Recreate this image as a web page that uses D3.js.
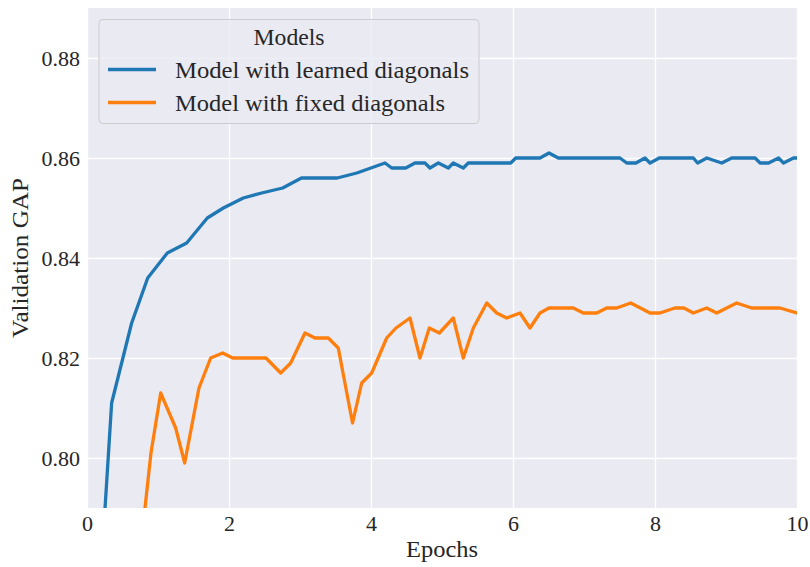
<!DOCTYPE html>
<html lang="en">
<head>
  <meta charset="UTF-8">
  <style>
    body { margin: 0; background: #fff; }
    svg { display: block; }
    text { font-family: "Liberation Serif", serif; fill: #262626; }
  </style>
  <script src="https://d3js.org/d3.v7.min.js"></script>
</head>
<body>
<svg id="chart"></svg>
<script>
  // epochs / validation GAP
  const learnedEpochs = [0.21, 0.347, 0.629, 0.855, 1.131, 1.404, 1.694, 1.92, 2.201, 2.46, 2.756, 3.02, 3.525, 3.80,
    4.197, 4.292, 4.489, 4.62, 4.76, 4.83, 4.948, 5.089, 5.159, 5.30, 5.37, 5.968, 6.038, 6.38, 6.507, 6.638,
    7.507, 7.601, 7.732, 7.859, 7.93, 8.06, 8.54, 8.60, 8.73, 8.94, 9.08, 9.41, 9.48, 9.60, 9.74, 9.81, 9.95, 10.0];
  const learnedGap = [0.780, 0.811, 0.827, 0.836, 0.841, 0.843, 0.848, 0.850, 0.852, 0.853, 0.854, 0.856, 0.856, 0.857,
    0.859, 0.858, 0.858, 0.859, 0.859, 0.858, 0.859, 0.858, 0.859, 0.858, 0.859, 0.859, 0.860, 0.860, 0.861, 0.860,
    0.860, 0.859, 0.859, 0.860, 0.859, 0.860, 0.860, 0.859, 0.860, 0.859, 0.860, 0.860, 0.859, 0.859, 0.860, 0.859, 0.860, 0.860];

  const fixedEpochs = [0.76, 0.901, 1.038, 1.249, 1.376, 1.577, 1.742, 1.911, 2.052, 2.521, 2.728, 2.869, 3.07, 3.211,
    3.399, 3.539, 3.740, 3.869, 4.01, 4.221, 4.352, 4.549, 4.69, 4.821, 4.962, 5.159, 5.30, 5.441, 5.63, 5.77,
    5.911, 6.099, 6.239, 6.38, 6.507, 6.85, 6.99, 7.179, 7.32, 7.46, 7.658, 7.93, 8.07, 8.28, 8.408, 8.539,
    8.728, 8.869, 9.15, 9.362, 9.76, 10.0];
  const fixedGap = [0.7826, 0.801, 0.813, 0.806, 0.799, 0.814, 0.820, 0.821, 0.820, 0.820, 0.817, 0.819, 0.825, 0.824,
    0.824, 0.822, 0.807, 0.815, 0.817, 0.824, 0.826, 0.828, 0.820, 0.826, 0.825, 0.828, 0.820, 0.826, 0.831, 0.829,
    0.828, 0.829, 0.826, 0.829, 0.830, 0.830, 0.829, 0.829, 0.830, 0.830, 0.831, 0.829, 0.829, 0.830, 0.830, 0.829,
    0.830, 0.829, 0.831, 0.830, 0.830, 0.829];

  const seriesNames = ["Model with learned diagonals", "Model with fixed diagonals"];
  const seriesColors = ["#1f77b4", "#ff7f0e"];
  const xTicks = [0, 2, 4, 6, 8, 10];
  const yTicks = [0.80, 0.82, 0.84, 0.86, 0.88];

  const width = 810, height = 567;
  const margin = { top: 8, right: 13, bottom: 59, left: 87 };
  const serif = "Liberation Serif";

  const svg = d3.select("#chart").attr("width", width).attr("height", height);

  const x = d3.scaleLinear().domain([0, 10]).range([margin.left, width - margin.right]);
  const y = d3.scaleLinear().domain([0.79, 0.89]).range([height - margin.bottom, margin.top]);

  // background
  svg.append("rect")
    .attr("x", margin.left).attr("y", margin.top)
    .attr("width", x(10) - x(0)).attr("height", y(0.79) - y(0.89))
    .attr("fill", "#eaeaf2");

  svg.append("clipPath").attr("id", "clip")
    .append("rect")
    .attr("x", margin.left).attr("y", margin.top)
    .attr("width", x(10) - x(0)).attr("height", y(0.79) - y(0.89));

  // grid + tick labels through axes
  const xAxis = svg.append("g")
    .attr("transform", `translate(0,${y(0.79)})`)
    .call(d3.axisBottom(x).tickValues(xTicks).tickSize(-(y(0.79) - y(0.89))).tickPadding(7).tickFormat(d3.format("d")));
  const yAxis = svg.append("g")
    .attr("transform", `translate(${margin.left},0)`)
    .call(d3.axisLeft(y).tickValues(yTicks).tickSize(-(x(10) - x(0))).tickPadding(7).tickFormat(d3.format(".2f")));

  [xAxis, yAxis].forEach(g => {
    g.select(".domain").remove();
    g.selectAll(".tick line").attr("stroke", "#fff").attr("stroke-width", 1.3);
    g.selectAll(".tick text").attr("font-family", serif).attr("font-size", 22).attr("fill", "#262626");
  });

  // lines
  const line = d3.line().x(d => x(d[0])).y(d => y(d[1]));
  const series = [
    d3.zip(learnedEpochs, learnedGap),
    d3.zip(fixedEpochs, fixedGap)
  ];
  const plot = svg.append("g").attr("clip-path", "url(#clip)");
  series.forEach((s, i) => {
    plot.append("path")
      .datum(s)
      .attr("fill", "none")
      .attr("stroke", seriesColors[i])
      .attr("stroke-width", 3.3)
      .attr("stroke-linejoin", "round")
      .attr("stroke-linecap", "square")
      .attr("d", line);
  });

  // axis labels
  svg.append("text")
    .attr("x", (x(0) + x(10)) / 2).attr("y", 557)
    .attr("text-anchor", "middle").attr("font-size", 23)
    .attr("textLength", 72).attr("lengthAdjust", "spacingAndGlyphs")
    .text("Epochs");
  svg.append("text")
    .attr("transform", `translate(28,${(y(0.79) + y(0.89)) / 2}) rotate(-90)`)
    .attr("text-anchor", "middle").attr("font-size", 23)
    .attr("textLength", 160).attr("lengthAdjust", "spacingAndGlyphs")
    .text("Validation GAP");

  // legend
  const legend = svg.append("g");
  legend.append("rect")
    .attr("x", 99).attr("y", 19.5).attr("width", 380).attr("height", 104)
    .attr("rx", 4)
    .attr("fill", "#eaeaf2").attr("fill-opacity", 0.8)
    .attr("stroke", "#cccccc").attr("stroke-width", 1);
  legend.append("text")
    .attr("x", 289).attr("y", 45)
    .attr("text-anchor", "middle").attr("font-size", 23)
    .attr("textLength", 71).attr("lengthAdjust", "spacingAndGlyphs")
    .text("Models");
  const legendLengths = [294, 270];
  seriesNames.forEach((name, i) => {
    const ly = 69.5 + i * 33;
    legend.append("line")
      .attr("x1", 108).attr("x2", 156).attr("y1", ly).attr("y2", ly)
      .attr("stroke", seriesColors[i]).attr("stroke-width", 3.3);
    legend.append("text")
      .attr("x", 175).attr("y", ly + 8.5)
      .attr("font-size", 23)
      .attr("textLength", legendLengths[i]).attr("lengthAdjust", "spacingAndGlyphs")
      .text(name);
  });
</script>
</body>
</html>
